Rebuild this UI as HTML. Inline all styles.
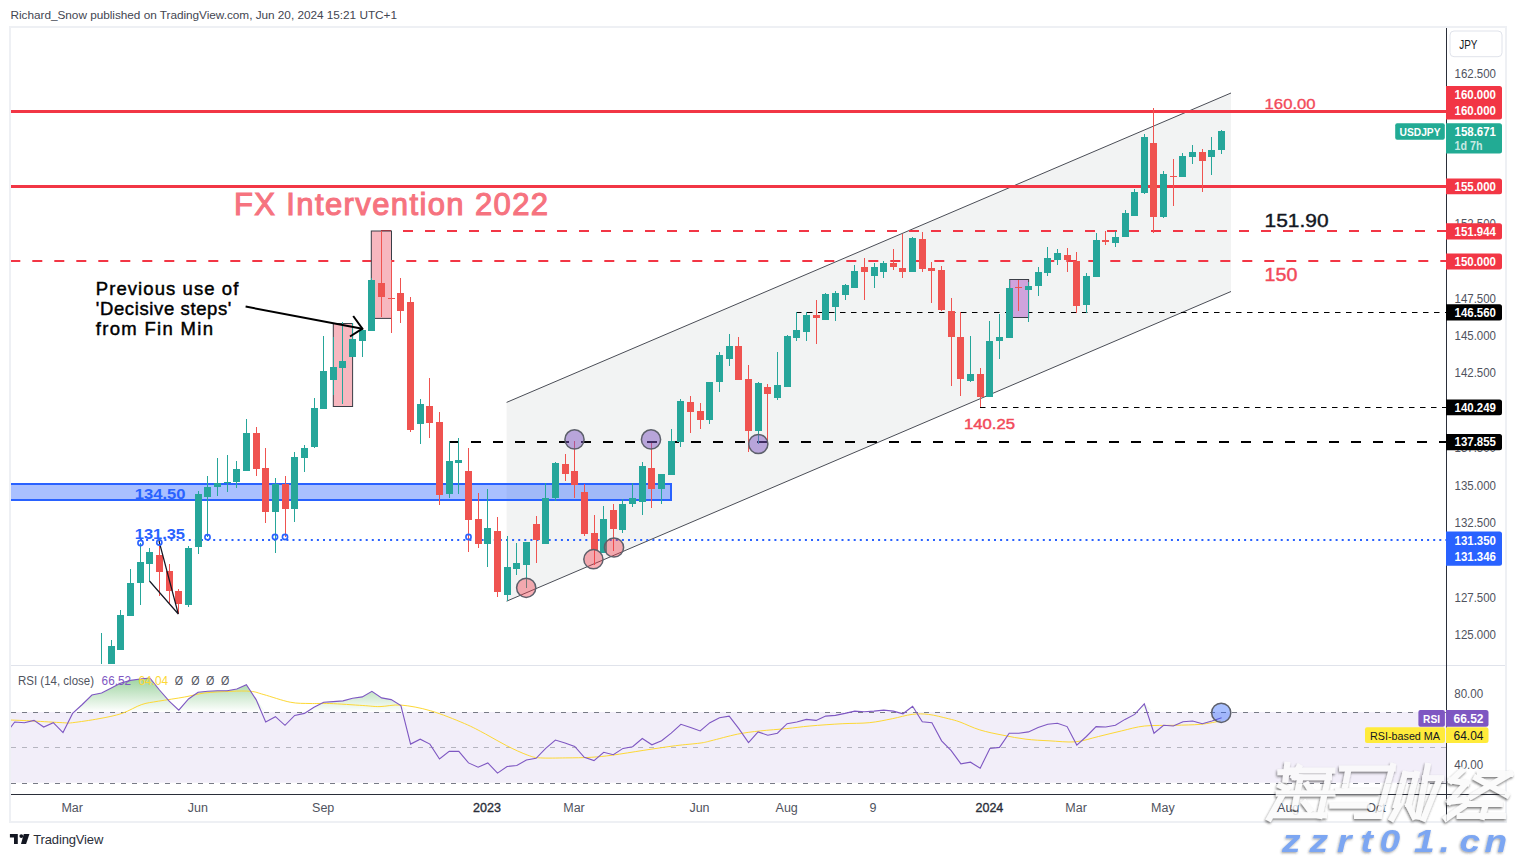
<!DOCTYPE html><html><head><meta charset="utf-8"><style>html,body{margin:0;padding:0;background:#fff;width:1516px;height:857px;overflow:hidden}svg{display:block}text{font-family:"Liberation Sans",sans-serif}</style></head><body>
<svg width="1516" height="857" viewBox="0 0 1516 857">
<defs><clipPath id="cm"><rect x="11" y="28" width="1435" height="636"/></clipPath><clipPath id="cr"><rect x="11" y="666" width="1435" height="128"/></clipPath><linearGradient id="gg" x1="0" y1="0" x2="0" y2="1"><stop offset="0" stop-color="#4caf50" stop-opacity="0.55"/><stop offset="1" stop-color="#4caf50" stop-opacity="0"/></linearGradient></defs>
<text x="10.5" y="18.8" font-size="11.8" fill="#434651" textLength="386.5" lengthAdjust="spacing">Richard_Snow published on TradingView.com, Jun 20, 2024 15:21 UTC+1</text>
<rect x="10" y="27" width="1496" height="795" fill="none" stroke="#eef0f4" stroke-width="2"/>
<g clip-path="url(#cm)">
<polygon points="506.6,402.4 1231,93 1231,291.5 506.6,601.2" fill="#f2f3f3"/>
<line x1="506.6" y1="402.4" x2="1231" y2="93" stroke="#4a4d56" stroke-width="1"/>
<line x1="506.6" y1="601.2" x2="1231" y2="291.5" stroke="#4a4d56" stroke-width="1"/>
<line x1="11" y1="111.5" x2="1446" y2="111.5" stroke="#f23645" stroke-width="3"/>
<line x1="11" y1="186.5" x2="1446" y2="186.5" stroke="#f23645" stroke-width="3"/>
<line x1="381" y1="231" x2="1446" y2="231" stroke="#f23645" stroke-width="2" stroke-dasharray="10 12"/>
<line x1="10.3" y1="261" x2="1446" y2="261" stroke="#f23645" stroke-width="2" stroke-dasharray="10 12"/>
<rect x="10" y="484" width="661" height="16" fill="rgba(41,98,255,0.4)" stroke="#2962ff" stroke-width="2"/>
<line x1="140" y1="540" x2="1446" y2="540" stroke="#2962ff" stroke-width="2" stroke-dasharray="2 4.1"/>
<line x1="449" y1="442" x2="1446" y2="442" stroke="#000" stroke-width="2.2" stroke-dasharray="10 12"/>
<line x1="796" y1="312.5" x2="1446" y2="312.5" stroke="#000" stroke-width="1" stroke-dasharray="5.5 5.5"/>
<line x1="980" y1="407.5" x2="1446" y2="407.5" stroke="#000" stroke-width="1" stroke-dasharray="5.5 5.5"/>
<rect x="333.3" y="323.5" width="19.3" height="83" fill="#f7b7bf" stroke="#3a3d46" stroke-width="1"/>
<rect x="371.3" y="231" width="20.2" height="87.4" fill="#f7b7bf" stroke="#3a3d46" stroke-width="1"/>
<rect x="1009.7" y="279.5" width="18.9" height="38" fill="#cfa3dc" stroke="#3a3d46" stroke-width="1"/>
<rect x="101" y="633" width="1" height="47" fill="#26a69a"/>
<rect x="98" y="668" width="7" height="12" fill="#26a69a"/>
<rect x="111" y="640" width="1" height="40" fill="#26a69a"/>
<rect x="108" y="646" width="7" height="34" fill="#26a69a"/>
<rect x="120" y="610" width="1" height="40" fill="#26a69a"/>
<rect x="117" y="615" width="7" height="35" fill="#26a69a"/>
<rect x="130" y="569" width="1" height="47" fill="#26a69a"/>
<rect x="127" y="583" width="7" height="33" fill="#26a69a"/>
<rect x="140" y="543" width="1" height="62" fill="#26a69a"/>
<rect x="137" y="562" width="7" height="21" fill="#26a69a"/>
<rect x="149" y="548" width="1" height="33" fill="#26a69a"/>
<rect x="146" y="552" width="7" height="12" fill="#26a69a"/>
<rect x="159" y="541" width="1" height="55" fill="#ef5350"/>
<rect x="156" y="555" width="7" height="17" fill="#ef5350"/>
<rect x="169" y="564" width="1" height="39" fill="#ef5350"/>
<rect x="166" y="571" width="7" height="20" fill="#ef5350"/>
<rect x="178" y="589" width="1" height="25" fill="#ef5350"/>
<rect x="175" y="591" width="7" height="13" fill="#ef5350"/>
<rect x="188" y="546" width="1" height="61" fill="#26a69a"/>
<rect x="185" y="548" width="7" height="57" fill="#26a69a"/>
<rect x="198" y="491" width="1" height="63" fill="#26a69a"/>
<rect x="195" y="494" width="7" height="53" fill="#26a69a"/>
<rect x="207" y="476" width="1" height="61" fill="#26a69a"/>
<rect x="204" y="487" width="7" height="10" fill="#26a69a"/>
<rect x="217" y="458" width="1" height="38" fill="#26a69a"/>
<rect x="214" y="483" width="7" height="4" fill="#26a69a"/>
<rect x="227" y="455" width="1" height="37" fill="#26a69a"/>
<rect x="224" y="482" width="7" height="1" fill="#26a69a"/>
<rect x="236" y="461" width="1" height="27" fill="#26a69a"/>
<rect x="233" y="469" width="7" height="13" fill="#26a69a"/>
<rect x="246" y="419" width="1" height="52" fill="#26a69a"/>
<rect x="243" y="433" width="7" height="38" fill="#26a69a"/>
<rect x="256" y="427" width="1" height="49" fill="#ef5350"/>
<rect x="253" y="433" width="7" height="36" fill="#ef5350"/>
<rect x="265" y="448" width="1" height="75" fill="#ef5350"/>
<rect x="262" y="468" width="7" height="44" fill="#ef5350"/>
<rect x="275" y="478" width="1" height="75" fill="#26a69a"/>
<rect x="272" y="484" width="7" height="28" fill="#26a69a"/>
<rect x="285" y="476" width="1" height="61" fill="#ef5350"/>
<rect x="282" y="484" width="7" height="25" fill="#ef5350"/>
<rect x="294" y="452" width="1" height="70" fill="#26a69a"/>
<rect x="291" y="457" width="7" height="52" fill="#26a69a"/>
<rect x="304" y="445" width="1" height="27" fill="#26a69a"/>
<rect x="301" y="448" width="7" height="10" fill="#26a69a"/>
<rect x="314" y="398" width="1" height="50" fill="#26a69a"/>
<rect x="311" y="408" width="7" height="39" fill="#26a69a"/>
<rect x="323" y="336" width="1" height="73" fill="#26a69a"/>
<rect x="320" y="371" width="7" height="38" fill="#26a69a"/>
<rect x="333" y="337" width="1" height="58" fill="#26a69a"/>
<rect x="330" y="367" width="7" height="13" fill="#26a69a"/>
<rect x="342" y="322" width="1" height="82" fill="#26a69a"/>
<rect x="339" y="361" width="7" height="7" fill="#26a69a"/>
<rect x="352" y="323" width="1" height="34" fill="#26a69a"/>
<rect x="349" y="339" width="7" height="18" fill="#26a69a"/>
<rect x="362" y="328" width="1" height="29" fill="#26a69a"/>
<rect x="359" y="330" width="7" height="11" fill="#26a69a"/>
<rect x="371" y="278" width="1" height="53" fill="#26a69a"/>
<rect x="368" y="280" width="7" height="51" fill="#26a69a"/>
<rect x="381" y="231" width="1" height="86" fill="#ef5350"/>
<rect x="378" y="283" width="7" height="14" fill="#ef5350"/>
<rect x="391" y="260" width="1" height="73" fill="#ef5350"/>
<rect x="388" y="298" width="7" height="1" fill="#ef5350"/>
<rect x="400" y="278" width="1" height="45" fill="#ef5350"/>
<rect x="397" y="293" width="7" height="18" fill="#ef5350"/>
<rect x="410" y="297" width="1" height="135" fill="#ef5350"/>
<rect x="407" y="302" width="7" height="128" fill="#ef5350"/>
<rect x="420" y="399" width="1" height="45" fill="#26a69a"/>
<rect x="417" y="404" width="7" height="20" fill="#26a69a"/>
<rect x="429" y="378" width="1" height="60" fill="#ef5350"/>
<rect x="426" y="406" width="7" height="17" fill="#ef5350"/>
<rect x="439" y="412" width="1" height="93" fill="#ef5350"/>
<rect x="436" y="422" width="7" height="73" fill="#ef5350"/>
<rect x="449" y="441" width="1" height="57" fill="#26a69a"/>
<rect x="446" y="461" width="7" height="33" fill="#26a69a"/>
<rect x="458" y="438" width="1" height="56" fill="#26a69a"/>
<rect x="455" y="460" width="7" height="3" fill="#26a69a"/>
<rect x="468" y="448" width="1" height="104" fill="#ef5350"/>
<rect x="465" y="471" width="7" height="49" fill="#ef5350"/>
<rect x="478" y="493" width="1" height="55" fill="#ef5350"/>
<rect x="475" y="519" width="7" height="25" fill="#ef5350"/>
<rect x="487" y="489" width="1" height="78" fill="#26a69a"/>
<rect x="484" y="528" width="7" height="16" fill="#26a69a"/>
<rect x="497" y="517" width="1" height="80" fill="#ef5350"/>
<rect x="494" y="531" width="7" height="61" fill="#ef5350"/>
<rect x="507" y="536" width="1" height="65" fill="#26a69a"/>
<rect x="504" y="567" width="7" height="28" fill="#26a69a"/>
<rect x="516" y="543" width="1" height="32" fill="#26a69a"/>
<rect x="513" y="563" width="7" height="6" fill="#26a69a"/>
<rect x="526" y="542" width="1" height="46" fill="#26a69a"/>
<rect x="523" y="542" width="7" height="23" fill="#26a69a"/>
<rect x="536" y="516" width="1" height="47" fill="#ef5350"/>
<rect x="533" y="524" width="7" height="16" fill="#ef5350"/>
<rect x="545" y="483" width="1" height="61" fill="#26a69a"/>
<rect x="542" y="498" width="7" height="46" fill="#26a69a"/>
<rect x="555" y="462" width="1" height="39" fill="#26a69a"/>
<rect x="552" y="463" width="7" height="35" fill="#26a69a"/>
<rect x="565" y="454" width="1" height="27" fill="#ef5350"/>
<rect x="562" y="464" width="7" height="10" fill="#ef5350"/>
<rect x="574" y="441" width="1" height="57" fill="#ef5350"/>
<rect x="571" y="471" width="7" height="14" fill="#ef5350"/>
<rect x="584" y="484" width="1" height="52" fill="#ef5350"/>
<rect x="581" y="492" width="7" height="42" fill="#ef5350"/>
<rect x="594" y="515" width="1" height="50" fill="#ef5350"/>
<rect x="591" y="533" width="7" height="17" fill="#ef5350"/>
<rect x="603" y="506" width="1" height="47" fill="#26a69a"/>
<rect x="600" y="519" width="7" height="34" fill="#26a69a"/>
<rect x="613" y="504" width="1" height="47" fill="#ef5350"/>
<rect x="610" y="510" width="7" height="19" fill="#ef5350"/>
<rect x="622" y="499" width="1" height="34" fill="#26a69a"/>
<rect x="619" y="504" width="7" height="26" fill="#26a69a"/>
<rect x="632" y="483" width="1" height="24" fill="#26a69a"/>
<rect x="629" y="498" width="7" height="6" fill="#26a69a"/>
<rect x="642" y="462" width="1" height="53" fill="#26a69a"/>
<rect x="639" y="466" width="7" height="36" fill="#26a69a"/>
<rect x="651" y="443" width="1" height="65" fill="#ef5350"/>
<rect x="648" y="468" width="7" height="21" fill="#ef5350"/>
<rect x="661" y="474" width="1" height="30" fill="#26a69a"/>
<rect x="658" y="474" width="7" height="15" fill="#26a69a"/>
<rect x="671" y="429" width="1" height="46" fill="#26a69a"/>
<rect x="668" y="441" width="7" height="34" fill="#26a69a"/>
<rect x="680" y="399" width="1" height="48" fill="#26a69a"/>
<rect x="677" y="401" width="7" height="41" fill="#26a69a"/>
<rect x="690" y="396" width="1" height="37" fill="#ef5350"/>
<rect x="687" y="402" width="7" height="10" fill="#ef5350"/>
<rect x="700" y="403" width="1" height="26" fill="#ef5350"/>
<rect x="697" y="411" width="7" height="9" fill="#ef5350"/>
<rect x="709" y="382" width="1" height="42" fill="#26a69a"/>
<rect x="706" y="382" width="7" height="38" fill="#26a69a"/>
<rect x="719" y="352" width="1" height="40" fill="#26a69a"/>
<rect x="716" y="355" width="7" height="27" fill="#26a69a"/>
<rect x="729" y="334" width="1" height="32" fill="#26a69a"/>
<rect x="726" y="346" width="7" height="13" fill="#26a69a"/>
<rect x="738" y="337" width="1" height="43" fill="#ef5350"/>
<rect x="735" y="346" width="7" height="34" fill="#ef5350"/>
<rect x="748" y="365" width="1" height="87" fill="#ef5350"/>
<rect x="745" y="379" width="7" height="52" fill="#ef5350"/>
<rect x="758" y="382" width="1" height="62" fill="#26a69a"/>
<rect x="755" y="383" width="7" height="48" fill="#26a69a"/>
<rect x="767" y="384" width="1" height="60" fill="#ef5350"/>
<rect x="764" y="387" width="7" height="7" fill="#ef5350"/>
<rect x="777" y="352" width="1" height="48" fill="#26a69a"/>
<rect x="774" y="385" width="7" height="13" fill="#26a69a"/>
<rect x="787" y="335" width="1" height="52" fill="#26a69a"/>
<rect x="784" y="336" width="7" height="51" fill="#26a69a"/>
<rect x="796" y="312" width="1" height="29" fill="#26a69a"/>
<rect x="793" y="330" width="7" height="8" fill="#26a69a"/>
<rect x="806" y="312" width="1" height="29" fill="#26a69a"/>
<rect x="803" y="315" width="7" height="17" fill="#26a69a"/>
<rect x="816" y="300" width="1" height="44" fill="#ef5350"/>
<rect x="813" y="315" width="7" height="3" fill="#ef5350"/>
<rect x="825" y="293" width="1" height="27" fill="#26a69a"/>
<rect x="822" y="294" width="7" height="26" fill="#26a69a"/>
<rect x="835" y="291" width="1" height="30" fill="#26a69a"/>
<rect x="832" y="293" width="7" height="14" fill="#26a69a"/>
<rect x="845" y="284" width="1" height="16" fill="#26a69a"/>
<rect x="842" y="285" width="7" height="10" fill="#26a69a"/>
<rect x="854" y="265" width="1" height="23" fill="#26a69a"/>
<rect x="851" y="271" width="7" height="17" fill="#26a69a"/>
<rect x="864" y="258" width="1" height="42" fill="#ef5350"/>
<rect x="861" y="267" width="7" height="5" fill="#ef5350"/>
<rect x="874" y="263" width="1" height="25" fill="#26a69a"/>
<rect x="871" y="267" width="7" height="9" fill="#26a69a"/>
<rect x="883" y="261" width="1" height="17" fill="#26a69a"/>
<rect x="880" y="263" width="7" height="9" fill="#26a69a"/>
<rect x="893" y="249" width="1" height="21" fill="#ef5350"/>
<rect x="890" y="263" width="7" height="4" fill="#ef5350"/>
<rect x="902" y="234" width="1" height="44" fill="#ef5350"/>
<rect x="899" y="268" width="7" height="4" fill="#ef5350"/>
<rect x="912" y="237" width="1" height="35" fill="#26a69a"/>
<rect x="909" y="238" width="7" height="34" fill="#26a69a"/>
<rect x="922" y="232" width="1" height="40" fill="#ef5350"/>
<rect x="919" y="239" width="7" height="30" fill="#ef5350"/>
<rect x="931" y="262" width="1" height="41" fill="#ef5350"/>
<rect x="928" y="268" width="7" height="3" fill="#ef5350"/>
<rect x="941" y="266" width="1" height="45" fill="#ef5350"/>
<rect x="938" y="270" width="7" height="40" fill="#ef5350"/>
<rect x="951" y="298" width="1" height="88" fill="#ef5350"/>
<rect x="948" y="311" width="7" height="26" fill="#ef5350"/>
<rect x="960" y="312" width="1" height="84" fill="#ef5350"/>
<rect x="957" y="337" width="7" height="42" fill="#ef5350"/>
<rect x="970" y="336" width="1" height="46" fill="#26a69a"/>
<rect x="967" y="374" width="7" height="7" fill="#26a69a"/>
<rect x="980" y="368" width="1" height="39" fill="#ef5350"/>
<rect x="977" y="374" width="7" height="23" fill="#ef5350"/>
<rect x="989" y="321" width="1" height="76" fill="#26a69a"/>
<rect x="986" y="341" width="7" height="56" fill="#26a69a"/>
<rect x="999" y="314" width="1" height="45" fill="#26a69a"/>
<rect x="996" y="337" width="7" height="4" fill="#26a69a"/>
<rect x="1009" y="280" width="1" height="58" fill="#26a69a"/>
<rect x="1006" y="288" width="7" height="50" fill="#26a69a"/>
<rect x="1018" y="280" width="1" height="31" fill="#ef5350"/>
<rect x="1015" y="287" width="7" height="1" fill="#ef5350"/>
<rect x="1028" y="282" width="1" height="40" fill="#26a69a"/>
<rect x="1025" y="286" width="7" height="4" fill="#26a69a"/>
<rect x="1038" y="267" width="1" height="29" fill="#26a69a"/>
<rect x="1035" y="272" width="7" height="14" fill="#26a69a"/>
<rect x="1047" y="247" width="1" height="29" fill="#26a69a"/>
<rect x="1044" y="258" width="7" height="15" fill="#26a69a"/>
<rect x="1057" y="249" width="1" height="16" fill="#26a69a"/>
<rect x="1054" y="253" width="7" height="7" fill="#26a69a"/>
<rect x="1067" y="248" width="1" height="24" fill="#ef5350"/>
<rect x="1064" y="255" width="7" height="5" fill="#ef5350"/>
<rect x="1076" y="252" width="1" height="61" fill="#ef5350"/>
<rect x="1073" y="261" width="7" height="45" fill="#ef5350"/>
<rect x="1086" y="273" width="1" height="40" fill="#26a69a"/>
<rect x="1083" y="276" width="7" height="29" fill="#26a69a"/>
<rect x="1096" y="233" width="1" height="44" fill="#26a69a"/>
<rect x="1093" y="240" width="7" height="37" fill="#26a69a"/>
<rect x="1105" y="231" width="1" height="14" fill="#ef5350"/>
<rect x="1102" y="240" width="7" height="2" fill="#ef5350"/>
<rect x="1115" y="231" width="1" height="16" fill="#26a69a"/>
<rect x="1112" y="237" width="7" height="6" fill="#26a69a"/>
<rect x="1125" y="210" width="1" height="27" fill="#26a69a"/>
<rect x="1122" y="213" width="7" height="24" fill="#26a69a"/>
<rect x="1134" y="189" width="1" height="27" fill="#26a69a"/>
<rect x="1131" y="192" width="7" height="24" fill="#26a69a"/>
<rect x="1144" y="134" width="1" height="60" fill="#26a69a"/>
<rect x="1141" y="137" width="7" height="56" fill="#26a69a"/>
<rect x="1153" y="108" width="1" height="125" fill="#ef5350"/>
<rect x="1150" y="143" width="7" height="74" fill="#ef5350"/>
<rect x="1163" y="171" width="1" height="47" fill="#26a69a"/>
<rect x="1160" y="174" width="7" height="43" fill="#26a69a"/>
<rect x="1173" y="159" width="1" height="47" fill="#ef5350"/>
<rect x="1170" y="176" width="7" height="1" fill="#ef5350"/>
<rect x="1182" y="153" width="1" height="24" fill="#26a69a"/>
<rect x="1179" y="156" width="7" height="21" fill="#26a69a"/>
<rect x="1192" y="145" width="1" height="19" fill="#26a69a"/>
<rect x="1189" y="152" width="7" height="5" fill="#26a69a"/>
<rect x="1202" y="149" width="1" height="43" fill="#ef5350"/>
<rect x="1199" y="152" width="7" height="9" fill="#ef5350"/>
<rect x="1211" y="137" width="1" height="38" fill="#26a69a"/>
<rect x="1208" y="150" width="7" height="7" fill="#26a69a"/>
<rect x="1221" y="130" width="1" height="24" fill="#26a69a"/>
<rect x="1218" y="131" width="7" height="19" fill="#26a69a"/>
<polyline points="159,541 178.3,614 149.5,581" fill="none" stroke="#131722" stroke-width="1.2"/>
<circle cx="574.5" cy="439.4" r="9.6" fill="rgba(126,87,194,0.5)" stroke="#5d606b" stroke-width="1.5"/>
<circle cx="651" cy="439.4" r="9.6" fill="rgba(126,87,194,0.5)" stroke="#5d606b" stroke-width="1.5"/>
<circle cx="758.3" cy="444" r="9.6" fill="rgba(126,87,194,0.5)" stroke="#5d606b" stroke-width="1.5"/>
<circle cx="526.2" cy="587.8" r="9.6" fill="rgba(242,54,69,0.4)" stroke="#5d606b" stroke-width="1.5"/>
<circle cx="593.4" cy="559.2" r="9.6" fill="rgba(242,54,69,0.4)" stroke="#5d606b" stroke-width="1.5"/>
<circle cx="614" cy="547.5" r="9.6" fill="rgba(242,54,69,0.4)" stroke="#5d606b" stroke-width="1.5"/>
<circle cx="140.5" cy="543" r="2.6" fill="none" stroke="#2962ff" stroke-width="1.6"/>
<circle cx="159.3" cy="542.5" r="2.6" fill="none" stroke="#2962ff" stroke-width="1.6"/>
<circle cx="207.5" cy="537.2" r="2.6" fill="none" stroke="#2962ff" stroke-width="1.6"/>
<circle cx="275" cy="537" r="2.6" fill="none" stroke="#2962ff" stroke-width="1.6"/>
<circle cx="285" cy="537" r="2.6" fill="none" stroke="#2962ff" stroke-width="1.6"/>
<circle cx="468.5" cy="537" r="2.6" fill="none" stroke="#2962ff" stroke-width="1.6"/>
<line x1="245.6" y1="306.6" x2="362.4" y2="328.7" stroke="#000" stroke-width="2"/>
<polyline points="353.2,316 362.4,328.7 350,336.5" fill="none" stroke="#000" stroke-width="2"/>
<text x="234" y="214.8" font-size="31" fill="#f6737f" stroke="#f6737f" stroke-width="1.1" textLength="314" lengthAdjust="spacing">FX Intervention 2022</text>
<text x="95.8" y="294.5" font-size="18.5" fill="#000" stroke="#000" stroke-width="0.45" textLength="142.5" lengthAdjust="spacing">Previous use of</text>
<text x="95.8" y="314.6" font-size="18.5" fill="#000" stroke="#000" stroke-width="0.45" textLength="135.6" lengthAdjust="spacing">'Decisive steps'</text>
<text x="95.8" y="334.6" font-size="18.5" fill="#000" stroke="#000" stroke-width="0.45" textLength="117.2" lengthAdjust="spacing">from Fin Min</text>
<text x="134.8" y="498.5" font-size="14.5" fill="#2962ff" font-weight="bold" text-anchor="start" textLength="50.7" lengthAdjust="spacingAndGlyphs" >134.50</text>
<text x="134.8" y="538.8" font-size="14.5" fill="#2962ff" font-weight="bold" text-anchor="start" textLength="50.2" lengthAdjust="spacingAndGlyphs" >131.35</text>
<text x="1264.6" y="108.6" font-size="15" fill="#f24a5a" font-weight="normal" text-anchor="start" textLength="51" lengthAdjust="spacingAndGlyphs" stroke="#f24a5a" stroke-width="0.35">160.00</text>
<text x="1264.6" y="227.3" font-size="18.5" fill="#131722" font-weight="normal" text-anchor="start" textLength="64" lengthAdjust="spacingAndGlyphs" stroke="#131722" stroke-width="0.4">151.90</text>
<text x="1264.6" y="281" font-size="18.5" fill="#f24a5a" font-weight="normal" text-anchor="start" textLength="32.7" lengthAdjust="spacingAndGlyphs" stroke="#f24a5a" stroke-width="0.45">150</text>
<text x="964" y="429" font-size="15" fill="#f24a5a" font-weight="normal" text-anchor="start" textLength="51" lengthAdjust="spacingAndGlyphs" stroke="#f24a5a" stroke-width="0.45">140.25</text>
<rect x="1395.2" y="123.2" width="49.6" height="16.6" rx="2" fill="#22ab94"/>
<text x="1420" y="135.5" font-size="11.5" fill="#fff" font-weight="bold" text-anchor="middle" textLength="41" lengthAdjust="spacingAndGlyphs" >USDJPY</text>
</g>
<line x1="11" y1="665.5" x2="1505" y2="665.5" stroke="#e0e3eb" stroke-width="1"/>
<g clip-path="url(#cr)">
<rect x="11" y="712" width="1435" height="70.7" fill="rgba(126,87,194,0.1)"/>
<polygon points="11,712 10.5,712.0 14.7,712.0 24.4,712.0 34.0,712.0 43.7,712.0 53.3,712.0 63.0,712.0 72.6,712.0 82.3,704.5 91.9,695.0 101.6,693.0 111.3,688.0 120.9,683.0 130.6,680.4 140.2,679.0 149.9,678.0 159.5,690.0 169.2,701.2 178.8,710.1 188.5,699.0 198.1,692.3 207.8,691.3 217.5,690.7 227.1,690.7 236.8,689.0 246.4,684.7 256.1,699.6 265.7,712.0 275.4,712.0 285.0,712.0 294.7,712.0 304.4,712.0 314.0,707.2 323.7,702.2 333.3,701.6 343.0,700.9 352.6,698.3 362.3,696.9 371.9,691.3 381.6,697.9 391.2,699.6 400.9,705.5 410.6,712.0 420.2,712.0 429.9,712.0 439.5,712.0 449.2,712.0 458.8,712.0 468.5,712.0 478.1,712.0 487.8,712.0 497.5,712.0 507.1,712.0 516.8,712.0 526.4,712.0 536.1,712.0 545.7,712.0 555.4,712.0 565.0,712.0 574.7,712.0 584.3,712.0 594.0,712.0 603.7,712.0 613.3,712.0 623.0,712.0 632.6,712.0 642.3,712.0 651.9,712.0 661.6,712.0 671.2,712.0 680.9,712.0 690.6,712.0 700.2,712.0 709.9,712.0 719.5,712.0 729.2,712.0 738.8,712.0 748.5,712.0 758.1,712.0 767.8,712.0 777.4,712.0 787.1,712.0 796.8,712.0 806.4,712.0 816.1,712.0 825.7,712.0 835.4,712.0 845.0,712.0 854.7,711.1 864.3,711.8 874.0,711.1 883.7,710.1 893.3,711.1 903.0,712.0 912.6,706.2 922.3,712.0 931.9,712.0 941.6,712.0 951.2,712.0 960.9,712.0 970.5,712.0 980.2,712.0 989.9,712.0 999.5,712.0 1009.2,712.0 1018.8,712.0 1028.5,712.0 1038.1,712.0 1047.8,712.0 1057.4,712.0 1067.1,712.0 1076.8,712.0 1086.4,712.0 1096.1,712.0 1105.7,712.0 1115.4,712.0 1125.0,712.0 1134.7,712.0 1144.3,703.9 1154.0,712.0 1163.6,712.0 1173.3,712.0 1183.0,712.0 1192.6,712.0 1202.3,712.0 1211.9,712.0 1221.6,712.0 1221.6,712" fill="url(#gg)" />
<line x1="11" y1="712.5" x2="1446" y2="712.5" stroke="#787b86" stroke-width="1" stroke-dasharray="5 6"/>
<line x1="11" y1="747.5" x2="1446" y2="747.5" stroke="#787b86" stroke-opacity="0.5" stroke-width="1" stroke-dasharray="5 6"/>
<line x1="11" y1="783.5" x2="1446" y2="783.5" stroke="#787b86" stroke-width="1" stroke-dasharray="5 6"/>
<path d="M10.5,720.0 C14.2,720.2 24.3,720.5 33.0,721.0 C41.7,721.5 56.1,722.4 62.7,722.7 C69.3,723.0 66.5,723.4 72.6,722.7 C78.6,722.0 90.8,720.2 99.0,718.7 C107.2,717.2 114.9,715.8 122.0,713.4 C129.1,711.0 135.8,706.5 141.8,704.5 C147.9,702.5 151.2,702.5 158.3,701.2 C165.5,700.0 177.0,698.4 184.7,697.0 C192.4,695.6 196.8,694.0 204.5,693.0 C212.2,692.0 223.3,691.6 231.0,691.3 C238.7,691.0 245.2,690.8 250.7,691.3 C256.2,691.8 257.3,692.8 263.9,694.6 C270.5,696.4 282.5,700.7 290.2,702.2 C297.9,703.7 303.4,703.3 310.0,703.5 C316.6,703.7 321.0,703.2 329.8,703.5 C338.6,703.8 354.4,705.0 362.8,705.5 C371.2,706.0 373.6,706.7 380.0,706.6 C386.4,706.5 392.7,704.4 401.1,705.1 C409.6,705.8 420.1,707.7 430.7,710.8 C441.2,713.9 455.3,719.6 464.4,723.5 C473.5,727.4 478.5,730.3 485.5,734.0 C492.5,737.7 499.6,742.2 506.6,745.7 C513.6,749.2 522.2,753.2 527.8,755.2 C533.4,757.2 534.1,757.5 540.4,757.9 C546.7,758.3 557.3,758.0 565.8,757.9 C574.2,757.8 583.4,757.8 591.1,757.3 C598.8,756.8 603.4,756.4 612.2,755.2 C621.0,754.0 633.4,751.9 643.9,750.3 C654.4,748.7 666.1,746.9 675.5,745.7 C684.9,744.5 694.1,743.9 700.0,743.1 C705.9,742.3 704.7,742.3 710.9,740.8 C717.1,739.3 729.1,735.9 737.3,734.2 C745.5,732.6 752.1,731.8 760.3,730.9 C768.5,730.0 778.5,729.4 786.7,728.6 C795.0,727.8 800.4,726.8 809.8,726.0 C819.1,725.2 832.9,724.2 842.8,723.7 C852.7,723.2 861.0,723.5 869.2,722.7 C877.5,721.9 885.1,720.1 892.3,718.7 C899.4,717.3 906.1,715.1 912.1,714.4 C918.1,713.7 922.5,713.7 928.5,714.4 C934.5,715.1 943.0,717.4 948.3,718.7 C953.5,720.0 954.8,720.1 960.0,722.0 C965.2,723.9 972.6,727.7 979.8,729.9 C986.9,732.1 995.2,733.7 1002.9,735.2 C1010.6,736.8 1018.3,738.3 1026.0,739.2 C1033.7,740.1 1040.8,740.4 1049.0,740.8 C1057.2,741.2 1067.2,742.5 1075.4,741.8 C1083.7,741.1 1090.8,738.3 1098.5,736.5 C1106.2,734.7 1113.9,732.6 1121.6,730.9 C1129.3,729.1 1135.9,726.9 1144.7,726.0 C1153.5,725.1 1165.1,725.6 1174.4,725.3 C1183.8,725.0 1193.1,725.0 1200.8,724.3 C1208.5,723.6 1217.3,721.5 1220.6,721.0" fill="none" stroke="#fdd835" stroke-width="1"/>
<polyline points="10.5,727.6 14.7,722.0 24.4,722.7 34.0,720.4 43.7,727.0 53.3,722.7 63.0,732.6 72.6,713.4 82.3,704.5 91.9,695.0 101.6,693.0 111.3,688.0 120.9,683.0 130.6,680.4 140.2,679.0 149.9,678.0 159.5,690.0 169.2,701.2 178.8,710.1 188.5,699.0 198.1,692.3 207.8,691.3 217.5,690.7 227.1,690.7 236.8,689.0 246.4,684.7 256.1,699.6 265.7,722.0 275.4,716.7 285.0,725.3 294.7,715.4 304.4,713.4 314.0,707.2 323.7,702.2 333.3,701.6 343.0,700.9 352.6,698.3 362.3,696.9 371.9,691.3 381.6,697.9 391.2,699.6 400.9,705.5 410.6,744.1 420.2,739.2 429.9,744.1 439.5,759.0 449.2,751.4 458.8,751.4 468.5,762.9 478.1,767.2 487.8,762.9 497.5,773.1 507.1,766.5 516.8,765.5 526.4,760.0 536.1,758.3 545.7,748.4 555.4,740.1 565.0,743.1 574.7,746.4 584.3,757.3 594.0,760.6 603.7,752.3 613.3,754.7 623.0,748.4 632.6,746.7 642.3,738.5 651.9,744.8 661.6,740.8 671.2,733.2 680.9,724.3 690.6,727.6 700.2,730.9 709.9,722.7 719.5,717.7 729.2,716.1 738.8,728.6 748.5,742.5 758.1,731.9 767.8,735.2 777.4,733.2 787.1,723.7 796.8,722.0 806.4,719.4 816.1,720.4 825.7,716.1 835.4,715.4 845.0,713.4 854.7,711.1 864.3,711.8 874.0,711.1 883.7,710.1 893.3,711.1 903.0,713.8 912.6,706.2 922.3,721.7 931.9,722.7 941.6,740.8 951.2,750.7 960.9,763.9 970.5,762.2 980.2,768.2 989.9,748.4 999.5,747.4 1009.2,733.2 1018.8,733.2 1028.5,731.9 1038.1,727.6 1047.8,724.3 1057.4,723.3 1067.1,726.6 1076.8,745.1 1086.4,736.5 1096.1,726.6 1105.7,727.0 1115.4,725.3 1125.0,719.4 1134.7,714.4 1144.3,703.9 1154.0,733.2 1163.6,725.3 1173.3,726.0 1183.0,721.7 1192.6,721.0 1202.3,723.7 1211.9,721.0 1221.6,717.7" fill="none" stroke="#7e57c2" stroke-width="1.1"/>
<circle cx="1221.2" cy="712.8" r="9.6" fill="rgba(41,98,255,0.4)" stroke="#5d606b" stroke-width="1.5"/>
<text x="18" y="685" font-size="12" fill="#50535e" font-weight="normal" text-anchor="start" textLength="76" lengthAdjust="spacingAndGlyphs" >RSI (14, close)</text>
<text x="101.6" y="685" font-size="12" fill="#7e57c2" font-weight="normal" text-anchor="start" textLength="29.4" lengthAdjust="spacingAndGlyphs" >66.52</text>
<text x="138.5" y="685" font-size="12" fill="#fdd835" font-weight="normal" text-anchor="start" textLength="29.7" lengthAdjust="spacingAndGlyphs" >64.04</text>
<text x="174.8" y="685" font-size="12" fill="#50535e" font-weight="normal" text-anchor="start" textLength="8.3" lengthAdjust="spacingAndGlyphs" >Ø</text>
<text x="191.3" y="685" font-size="12" fill="#50535e" font-weight="normal" text-anchor="start" textLength="8.3" lengthAdjust="spacingAndGlyphs" >Ø</text>
<text x="206" y="685" font-size="12" fill="#50535e" font-weight="normal" text-anchor="start" textLength="8.3" lengthAdjust="spacingAndGlyphs" >Ø</text>
<text x="221" y="685" font-size="12" fill="#50535e" font-weight="normal" text-anchor="start" textLength="8.3" lengthAdjust="spacingAndGlyphs" >Ø</text>
<rect x="1418.4" y="710" width="26.5" height="16.8" rx="2" fill="#7e57c2"/>
<text x="1431.6" y="722.5" font-size="11.5" fill="#fff" font-weight="bold" text-anchor="middle" textLength="17" lengthAdjust="spacingAndGlyphs" >RSI</text>
<rect x="1365" y="727.3" width="80" height="15.8" rx="2" fill="#ffeb3b"/>
<text x="1405" y="739.5" font-size="11.5" fill="#131722" font-weight="normal" text-anchor="middle" textLength="70" lengthAdjust="spacingAndGlyphs" >RSI-based MA</text>
</g>
<line x1="11" y1="794.5" x2="1505" y2="794.5" stroke="#2a2e39" stroke-width="1"/>
<line x1="1446.5" y1="28" x2="1446.5" y2="821" stroke="#2a2e39" stroke-width="1"/>
<rect x="1450" y="31" width="52" height="25.7" rx="4" fill="#fff" stroke="#e0e3eb" stroke-width="1"/>
<text x="1459.3" y="48.6" font-size="12.5" fill="#131722" font-weight="normal" text-anchor="start" textLength="18.2" lengthAdjust="spacingAndGlyphs" >JPY</text>
<text x="1496" y="77.5" font-size="12.5" fill="#50535e" font-weight="normal" text-anchor="end" textLength="41.5" lengthAdjust="spacingAndGlyphs" >162.500</text>
<text x="1496" y="227.5" font-size="12.5" fill="#50535e" font-weight="normal" text-anchor="end" textLength="41.5" lengthAdjust="spacingAndGlyphs" >152.500</text>
<text x="1496" y="303.1" font-size="12.5" fill="#50535e" font-weight="normal" text-anchor="end" textLength="41.5" lengthAdjust="spacingAndGlyphs" >147.500</text>
<text x="1496" y="340.1" font-size="12.5" fill="#50535e" font-weight="normal" text-anchor="end" textLength="41.5" lengthAdjust="spacingAndGlyphs" >145.000</text>
<text x="1496" y="377.0" font-size="12.5" fill="#50535e" font-weight="normal" text-anchor="end" textLength="41.5" lengthAdjust="spacingAndGlyphs" >142.500</text>
<text x="1496" y="452.0" font-size="12.5" fill="#50535e" font-weight="normal" text-anchor="end" textLength="41.5" lengthAdjust="spacingAndGlyphs" >137.500</text>
<text x="1496" y="489.7" font-size="12.5" fill="#50535e" font-weight="normal" text-anchor="end" textLength="41.5" lengthAdjust="spacingAndGlyphs" >135.000</text>
<text x="1496" y="526.9" font-size="12.5" fill="#50535e" font-weight="normal" text-anchor="end" textLength="41.5" lengthAdjust="spacingAndGlyphs" >132.500</text>
<text x="1496" y="601.7" font-size="12.5" fill="#50535e" font-weight="normal" text-anchor="end" textLength="41.5" lengthAdjust="spacingAndGlyphs" >127.500</text>
<text x="1496" y="638.7" font-size="12.5" fill="#50535e" font-weight="normal" text-anchor="end" textLength="41.5" lengthAdjust="spacingAndGlyphs" >125.000</text>
<path d="M1446,86.1 H1499.5 a2.5,2.5 0 0 1 2.5,2.5 V117.1 a2.5,2.5 0 0 1 -2.5,2.5 H1446 Z" fill="#f23645"/>
<text x="1496" y="99.1" font-size="12.5" fill="#fff" font-weight="bold" text-anchor="end" textLength="41.5" lengthAdjust="spacingAndGlyphs" >160.000</text>
<text x="1496" y="114.89999999999999" font-size="12.5" fill="#fff" font-weight="bold" text-anchor="end" textLength="41.5" lengthAdjust="spacingAndGlyphs" >160.000</text>
<path d="M1446,123.2 H1499.5 a2.5,2.5 0 0 1 2.5,2.5 V151.1 a2.5,2.5 0 0 1 -2.5,2.5 H1446 Z" fill="#22ab94"/>
<text x="1496" y="136.10000000000002" font-size="12.5" fill="#fff" font-weight="bold" text-anchor="end" textLength="41.5" lengthAdjust="spacingAndGlyphs" >158.671</text>
<text x="1454.6" y="149.70000000000002" font-size="12.5" fill="rgba(255,255,255,0.75)" font-weight="bold" text-anchor="start" textLength="28" lengthAdjust="spacingAndGlyphs" >1d 7h</text>
<path d="M1446,178.4 H1499.5 a2.5,2.5 0 0 1 2.5,2.5 V191.8 a2.5,2.5 0 0 1 -2.5,2.5 H1446 Z" fill="#f23645"/>
<text x="1496" y="190.60000000000002" font-size="12.5" fill="#fff" font-weight="bold" text-anchor="end" textLength="41.5" lengthAdjust="spacingAndGlyphs" >155.000</text>
<path d="M1446,223.3 H1499.5 a2.5,2.5 0 0 1 2.5,2.5 V237.0 a2.5,2.5 0 0 1 -2.5,2.5 H1446 Z" fill="#f23645"/>
<text x="1496" y="235.70000000000002" font-size="12.5" fill="#fff" font-weight="bold" text-anchor="end" textLength="41.5" lengthAdjust="spacingAndGlyphs" >151.944</text>
<path d="M1446,253.6 H1499.5 a2.5,2.5 0 0 1 2.5,2.5 V267.1 a2.5,2.5 0 0 1 -2.5,2.5 H1446 Z" fill="#f23645"/>
<text x="1496" y="265.90000000000003" font-size="12.5" fill="#fff" font-weight="bold" text-anchor="end" textLength="41.5" lengthAdjust="spacingAndGlyphs" >150.000</text>
<path d="M1446,304.2 H1499.5 a2.5,2.5 0 0 1 2.5,2.5 V318.0 a2.5,2.5 0 0 1 -2.5,2.5 H1446 Z" fill="#000"/>
<text x="1496" y="316.6" font-size="12.5" fill="#fff" font-weight="bold" text-anchor="end" textLength="41.5" lengthAdjust="spacingAndGlyphs" >146.560</text>
<path d="M1446,399.4 H1499.5 a2.5,2.5 0 0 1 2.5,2.5 V412.8 a2.5,2.5 0 0 1 -2.5,2.5 H1446 Z" fill="#000"/>
<text x="1496" y="411.6" font-size="12.5" fill="#fff" font-weight="bold" text-anchor="end" textLength="41.5" lengthAdjust="spacingAndGlyphs" >140.249</text>
<path d="M1446,434 H1499.5 a2.5,2.5 0 0 1 2.5,2.5 V447.8 a2.5,2.5 0 0 1 -2.5,2.5 H1446 Z" fill="#000"/>
<text x="1496" y="446.40000000000003" font-size="12.5" fill="#fff" font-weight="bold" text-anchor="end" textLength="41.5" lengthAdjust="spacingAndGlyphs" >137.855</text>
<path d="M1446,531.4 H1499.5 a2.5,2.5 0 0 1 2.5,2.5 V563.3 a2.5,2.5 0 0 1 -2.5,2.5 H1446 Z" fill="#2962ff"/>
<text x="1496" y="544.5999999999999" font-size="12.5" fill="#fff" font-weight="bold" text-anchor="end" textLength="41.5" lengthAdjust="spacingAndGlyphs" >131.350</text>
<text x="1496" y="561.4" font-size="12.5" fill="#fff" font-weight="bold" text-anchor="end" textLength="41.5" lengthAdjust="spacingAndGlyphs" >131.346</text>
<text x="1483.2" y="698" font-size="12.5" fill="#50535e" font-weight="normal" text-anchor="end" textLength="29" lengthAdjust="spacingAndGlyphs" >80.00</text>
<text x="1483.2" y="768.5" font-size="12.5" fill="#50535e" font-weight="normal" text-anchor="end" textLength="29" lengthAdjust="spacingAndGlyphs" >40.00</text>
<path d="M1446,710 H1486 a2.5,2.5 0 0 1 2.5,2.5 V724.3 a2.5,2.5 0 0 1 -2.5,2.5 H1446 Z" fill="#7e57c2"/>
<text x="1483.5" y="722.5" font-size="12.5" fill="#fff" font-weight="bold" text-anchor="end" textLength="30" lengthAdjust="spacingAndGlyphs" >66.52</text>
<path d="M1446,727.3 H1486 a2.5,2.5 0 0 1 2.5,2.5 V740.6 a2.5,2.5 0 0 1 -2.5,2.5 H1446 Z" fill="#ffeb3b"/>
<text x="1483.5" y="739.5" font-size="12.5" fill="#131722" font-weight="normal" text-anchor="end" textLength="30" lengthAdjust="spacingAndGlyphs" >64.04</text>
<text x="72.2" y="812.3" font-size="12.5" fill="#50535e" font-weight="normal" text-anchor="middle" >Mar</text>
<text x="197.9" y="812.3" font-size="12.5" fill="#50535e" font-weight="normal" text-anchor="middle" >Jun</text>
<text x="323.2" y="812.3" font-size="12.5" fill="#50535e" font-weight="normal" text-anchor="middle" >Sep</text>
<text x="487" y="812.3" font-size="12.5" fill="#2a2e39" font-weight="normal" text-anchor="middle" stroke="#2a2e39" stroke-width="0.35">2023</text>
<text x="574" y="812.3" font-size="12.5" fill="#50535e" font-weight="normal" text-anchor="middle" >Mar</text>
<text x="699.5" y="812.3" font-size="12.5" fill="#50535e" font-weight="normal" text-anchor="middle" >Jun</text>
<text x="786.7" y="812.3" font-size="12.5" fill="#50535e" font-weight="normal" text-anchor="middle" >Aug</text>
<text x="873" y="812.3" font-size="12.5" fill="#50535e" font-weight="normal" text-anchor="middle" >9</text>
<text x="989.4" y="812.3" font-size="12.5" fill="#2a2e39" font-weight="normal" text-anchor="middle" stroke="#2a2e39" stroke-width="0.35">2024</text>
<text x="1076.1" y="812.3" font-size="12.5" fill="#50535e" font-weight="normal" text-anchor="middle" >Mar</text>
<text x="1162.9" y="812.3" font-size="12.5" fill="#50535e" font-weight="normal" text-anchor="middle" >May</text>
<text x="1288.2" y="812.3" font-size="12.5" fill="#50535e" font-weight="normal" text-anchor="middle" >Aug</text>
<text x="1375.9" y="812.3" font-size="12.5" fill="#50535e" font-weight="normal" text-anchor="middle" >Oct</text>
<g fill="#131722"><path d="M9.9,834.1 H17.8 V844 H14 V837.6 H9.9 Z"/><circle cx="21.3" cy="836.1" r="1.9"/><path d="M23.75,834.1 H29.45 L26.1,844 H21 Z"/></g>
<text x="33.3" y="843.8" font-size="13" fill="#2a2e39" textLength="70" lengthAdjust="spacing">TradingView</text>
<defs><filter id="wm" x="-10%" y="-20%" width="120%" height="140%"><feDropShadow dx="-0.8" dy="1.6" stdDeviation="1" flood-color="#333" flood-opacity="0.8"/></filter></defs>
<g filter="url(#wm)" opacity="0.82">
<line x1="1280.4" y1="772.2" x2="1291.3" y2="772.2" stroke="#fbfbfb" stroke-width="6" stroke-linecap="square"/>
<line x1="1287.1" y1="764.7" x2="1285.5" y2="779.8" stroke="#fbfbfb" stroke-width="6" stroke-linecap="square"/>
<line x1="1291.3" y1="770.6" x2="1332.4" y2="770.6" stroke="#fbfbfb" stroke-width="6" stroke-linecap="square"/>
<line x1="1298.9" y1="767.2" x2="1293.8" y2="776.4" stroke="#fbfbfb" stroke-width="6" stroke-linecap="square"/>
<line x1="1329.0" y1="773.9" x2="1319.8" y2="815.8" stroke="#fbfbfb" stroke-width="6" stroke-linecap="square"/>
<line x1="1300.5" y1="777.3" x2="1294.7" y2="806.6" stroke="#fbfbfb" stroke-width="6" stroke-linecap="square"/>
<line x1="1278.8" y1="793.5" x2="1332.4" y2="793.5" stroke="#fbfbfb" stroke-width="6" stroke-linecap="square"/>
<line x1="1275.4" y1="815.3" x2="1324.0" y2="815.3" stroke="#fbfbfb" stroke-width="6" stroke-linecap="square"/>
<line x1="1283.8" y1="792.3" x2="1269.5" y2="818.3" stroke="#fbfbfb" stroke-width="6" stroke-linecap="square"/>
<line x1="1280.4" y1="785.6" x2="1287.1" y2="789.0" stroke="#fbfbfb" stroke-width="6" stroke-linecap="square"/>
<line x1="1307.2" y1="784.8" x2="1311.4" y2="791.5" stroke="#fbfbfb" stroke-width="6" stroke-linecap="square"/>
<line x1="1304.7" y1="803.2" x2="1309.7" y2="809.9" stroke="#fbfbfb" stroke-width="6" stroke-linecap="square"/>
<line x1="1294.7" y1="777.3" x2="1329.0" y2="777.3" stroke="#fbfbfb" stroke-width="6" stroke-linecap="square"/>
<line x1="1342.1" y1="768.6" x2="1392.7" y2="768.6" stroke="#fbfbfb" stroke-width="6" stroke-linecap="square"/>
<line x1="1347.9" y1="772.1" x2="1345.1" y2="786.0" stroke="#fbfbfb" stroke-width="6" stroke-linecap="square"/>
<line x1="1338.1" y1="791.2" x2="1376.9" y2="791.2" stroke="#fbfbfb" stroke-width="6" stroke-linecap="square"/>
<line x1="1392.7" y1="766.0" x2="1379.1" y2="815.0" stroke="#fbfbfb" stroke-width="6" stroke-linecap="square"/>
<line x1="1379.1" y1="816.0" x2="1357.0" y2="816.0" stroke="#fbfbfb" stroke-width="6" stroke-linecap="square"/>
<line x1="1332.4" y1="805.6" x2="1366.5" y2="805.6" stroke="#fbfbfb" stroke-width="6" stroke-linecap="square"/>
<line x1="1405.1" y1="774.9" x2="1416.5" y2="774.9" stroke="#fbfbfb" stroke-width="6" stroke-linecap="square"/>
<line x1="1405.1" y1="773.9" x2="1396.0" y2="805.6" stroke="#fbfbfb" stroke-width="6" stroke-linecap="square"/>
<line x1="1416.5" y1="773.9" x2="1408.6" y2="804.7" stroke="#fbfbfb" stroke-width="6" stroke-linecap="square"/>
<line x1="1399.0" y1="805.6" x2="1392.0" y2="818.3" stroke="#fbfbfb" stroke-width="6" stroke-linecap="square"/>
<line x1="1408.6" y1="805.6" x2="1414.0" y2="816.6" stroke="#fbfbfb" stroke-width="6" stroke-linecap="square"/>
<line x1="1425.2" y1="778.1" x2="1441.1" y2="778.1" stroke="#fbfbfb" stroke-width="6" stroke-linecap="square"/>
<line x1="1427.7" y1="766.0" x2="1418.1" y2="816.6" stroke="#fbfbfb" stroke-width="6" stroke-linecap="square"/>
<line x1="1439.4" y1="779.4" x2="1423.7" y2="818.3" stroke="#fbfbfb" stroke-width="6" stroke-linecap="square"/>
<line x1="1462.2" y1="770.6" x2="1451.3" y2="780.6" stroke="#fbfbfb" stroke-width="6" stroke-linecap="square"/>
<line x1="1451.3" y1="780.6" x2="1466.4" y2="783.1" stroke="#fbfbfb" stroke-width="6" stroke-linecap="square"/>
<line x1="1466.4" y1="783.1" x2="1449.6" y2="801.6" stroke="#fbfbfb" stroke-width="6" stroke-linecap="square"/>
<line x1="1449.6" y1="801.6" x2="1466.4" y2="799.9" stroke="#fbfbfb" stroke-width="6" stroke-linecap="square"/>
<line x1="1463.0" y1="806.6" x2="1446.3" y2="818.3" stroke="#fbfbfb" stroke-width="6" stroke-linecap="square"/>
<line x1="1479.8" y1="773.9" x2="1509.9" y2="773.9" stroke="#fbfbfb" stroke-width="6" stroke-linecap="square"/>
<line x1="1509.9" y1="773.9" x2="1471.4" y2="796.5" stroke="#fbfbfb" stroke-width="6" stroke-linecap="square"/>
<line x1="1476.4" y1="778.1" x2="1506.6" y2="794.9" stroke="#fbfbfb" stroke-width="6" stroke-linecap="square"/>
<line x1="1466.4" y1="804.1" x2="1499.9" y2="804.1" stroke="#fbfbfb" stroke-width="6" stroke-linecap="square"/>
<line x1="1485.7" y1="804.9" x2="1482.3" y2="816.6" stroke="#fbfbfb" stroke-width="6" stroke-linecap="square"/>
<line x1="1459.7" y1="816.1" x2="1503.2" y2="816.1" stroke="#fbfbfb" stroke-width="6" stroke-linecap="square"/>
</g>
<defs><filter id="ws" x="-20%" y="-20%" width="140%" height="140%"><feDropShadow dx="-0.8" dy="1.2" stdDeviation="0.8" flood-color="#333" flood-opacity="0.45"/></filter></defs>
<g filter="url(#ws)" font-size="32" font-weight="bold" font-style="italic" fill="#7ba6f2">
<text x="0" y="0" transform="translate(1282,852.2) scale(1.16,1)">z</text>
<text x="0" y="0" transform="translate(1309.5,852.2) scale(1.16,1)">z</text>
<text x="0" y="0" transform="translate(1337,852.2) scale(1.16,1)">r</text>
<text x="0" y="0" transform="translate(1360.5,852.2) scale(1.16,1)">t</text>
<text x="0" y="0" transform="translate(1379.5,852.2) scale(1.16,1)">0</text>
<text x="0" y="0" transform="translate(1414,852.2) scale(1.16,1)">1</text>
<text x="0" y="0" transform="translate(1439.5,852.2) scale(1.16,1)">.</text>
<text x="0" y="0" transform="translate(1459.5,852.2) scale(1.16,1)">c</text>
<text x="0" y="0" transform="translate(1484.5,852.2) scale(1.16,1)">n</text>
</g>
</svg></body></html>
